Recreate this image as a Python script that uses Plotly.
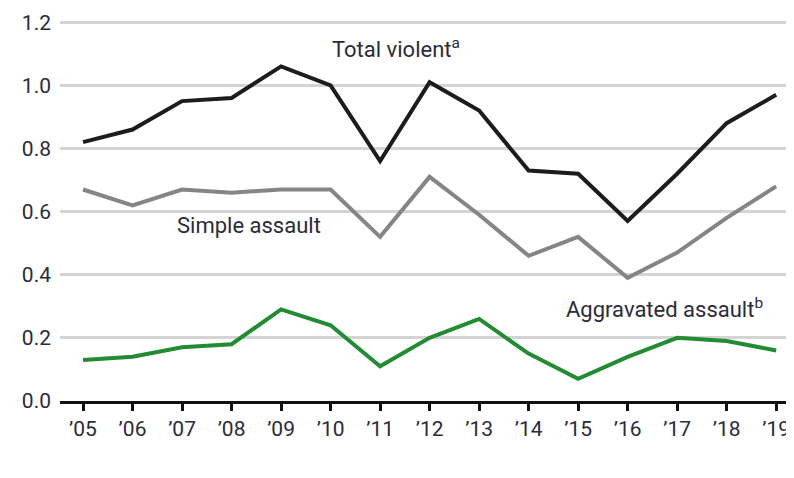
import plotly.graph_objects as go

years = ["’05", "’06", "’07", "’08", "’09", "’10", "’11", "’12", "’13", "’14", "’15", "’16", "’17", "’18", "’19"]
total_violent = [0.82, 0.86, 0.95, 0.96, 1.06, 1.00, 0.76, 1.01, 0.92, 0.73, 0.72, 0.57, 0.72, 0.88, 0.97]
simple_assault = [0.67, 0.62, 0.67, 0.66, 0.67, 0.67, 0.52, 0.71, 0.59, 0.46, 0.52, 0.39, 0.47, 0.58, 0.68]
aggravated_assault = [0.13, 0.14, 0.17, 0.18, 0.29, 0.24, 0.11, 0.20, 0.26, 0.15, 0.07, 0.14, 0.20, 0.19, 0.16]
y_ticks = [0.0, 0.2, 0.4, 0.6, 0.8, 1.0, 1.2]

FONT = "Roboto, Liberation Sans Narrow, sans-serif"
TXT = "#2b2b3a"

fig = go.Figure()
fig.add_trace(go.Scatter(x=years, y=simple_assault, mode="lines",
                         line=dict(color="#858585", width=4), name="Simple assault"))
fig.add_trace(go.Scatter(x=years, y=total_violent, mode="lines",
                         line=dict(color="#1c1c1c", width=4), name="Total violent"))
fig.add_trace(go.Scatter(x=years, y=aggravated_assault, mode="lines",
                         line=dict(color="#218c32", width=4), name="Aggravated assault"))

fig.add_annotation(x=6.33, y=1.117, text="Total violent<sup>a</sup>", showarrow=False,
                   font=dict(family=FONT, size=22, color=TXT), xanchor="center")
fig.add_annotation(x=3.36, y=0.555, text="Simple assault", showarrow=False,
                   font=dict(family=FONT, size=22, color=TXT), xanchor="center")
fig.add_annotation(x=11.75, y=0.295, text="Aggravated assault<sup>b</sup>", showarrow=False,
                   font=dict(family=FONT, size=22, color=TXT), xanchor="center")

fig.update_layout(
    width=786, height=470,
    margin=dict(l=52, r=0, t=0, b=77, autoexpand=False),
    paper_bgcolor="white", plot_bgcolor="white",
    showlegend=False,
    font=dict(family=FONT, size=21, color=TXT),
    xaxis=dict(type="category", range=[-0.465, 14.36], automargin=False,
               showgrid=False, showline=True, linecolor="#111111", linewidth=3,
               ticks="outside", ticklen=7, tickwidth=3, tickcolor="#111111",
               tickfont=dict(family=FONT, size=21, color=TXT)),
    yaxis=dict(range=[0, 1.245], tickvals=y_ticks, ticktext=[f"{v:.1f}" for v in y_ticks],
               automargin=False, ticklabelstandoff=8,
               showgrid=True, gridcolor="#d4d4d4", gridwidth=3,
               zeroline=False, showline=False, ticks="",
               tickfont=dict(family=FONT, size=21, color=TXT)),
)

fig.write_html("out.html")
